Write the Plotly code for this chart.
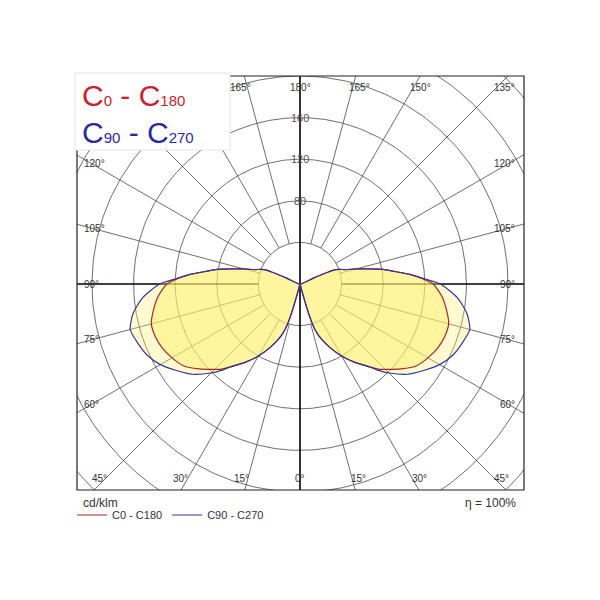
import numpy as np
import plotly.graph_objects as go

# ---------------- data (cd/klm) ----------------
gamma = [0, 10, 14, 15, 16, 17, 18, 20, 25, 30, 35, 40, 42.5, 45, 50, 55, 60, 65, 70,
         75, 80, 85, 90, 92.5, 95, 97.5, 100, 102.5, 105, 107.5, 110, 112, 113, 114,
         115, 120, 180]
c0_c180 = [0, 0, 0, 6, 25, 38, 45, 53, 67, 80, 92, 104, 111, 116, 127, 137, 142, 146, 148,
           148, 143, 137, 128, 118, 106, 92, 81, 67, 56, 46, 41, 37, 29, 14,
           0, 0, 0]
c90_c270 = [0, 0, 0, 6, 25, 38, 45, 53, 67, 80, 92, 104, 113, 121, 135, 145, 155, 162, 166,
            169, 163, 152, 135, 119, 106, 92, 81, 67, 56, 46, 41, 37, 29, 14,
            0, 0, 0]
ring_values = [40, 80, 120, 160, 200, 240, 280]
ring_labels = ["80", "120", "160"]
spoke_angles = list(range(0, 181, 15))
angle_labels = [f"{a}°" for a in spoke_angles]
series_names = ["C0 - C180", "C90 - C270"]

# ---------------- geometry helpers ----------------
OFF = 8                                 # page body margin
W, H = 600 - OFF, 600 - OFF
FL, FR, FT, FB = 77, 524, 76, 490      # frame in page pixels
CX, CY = 300, 284                       # pole in page pixels
K = 1.04                                # px per cd/klm

def px2data(xp, yp):
    return (xp - CX) / K, (CY - yp) / K

def px2paper(xp, yp):
    return (xp - FL) / (FR - FL), (FB - yp) / (FB - FT)

xr = [px2data(FL, 0)[0], px2data(FR, 0)[0]]
yr = [px2data(0, FB)[1], px2data(0, FT)[1]]

def lobe_path(g, vals):
    g = np.radians(np.array(g, float))
    v = np.array(vals, float)
    xs_r, ys_r = v * np.sin(g), -v * np.cos(g)
    xs = np.concatenate([xs_r, -xs_r[::-1]])
    ys = np.concatenate([ys_r, ys_r[::-1]])
    px, py = [], []
    for a, b in zip(xs, ys):
        if px and abs(px[-1] - a) < 1e-9 and abs(py[-1] - b) < 1e-9:
            continue
        px.append(a); py.append(b)
    return px, py

fig = go.Figure()

GRID = "#4a4a4a"
# rings
th = np.linspace(0, 2 * np.pi, 361)
for r in ring_values:
    fig.add_trace(go.Scatter(x=r * np.cos(th), y=r * np.sin(th), mode="lines",
                             line=dict(color=GRID, width=0.8), hoverinfo="skip",
                             showlegend=False))
# spokes
for a in spoke_angles:
    ar = np.radians(a)
    for s in (1, -1):
        if a in (0, 180):
            continue
        x0, y0 = s * 40 * np.sin(ar), -40 * np.cos(ar)
        x1, y1 = s * 600 * np.sin(ar), -600 * np.cos(ar)
        heavy = a == 90
        fig.add_trace(go.Scatter(x=[x0, x1], y=[y0, y1], mode="lines",
                                 line=dict(color="#000" if heavy else GRID,
                                           width=1.4 if heavy else 0.8),
                                 hoverinfo="skip", showlegend=False))
fig.add_trace(go.Scatter(x=[0, 0], y=[-600, 600], mode="lines",
                         line=dict(color="#000", width=1.6), hoverinfo="skip",
                         showlegend=False))

# fills
bx, by = lobe_path(gamma, c90_c270)
rx, ry = lobe_path(gamma, c0_c180)
fig.add_trace(go.Scatter(x=bx, y=by, mode="none", fill="toself",
                         fillcolor="rgba(255,240,110,0.32)", hoverinfo="skip",
                         showlegend=False))
fig.add_trace(go.Scatter(x=rx, y=ry, mode="none", fill="toself",
                         fillcolor="rgba(255,240,110,0.5)", hoverinfo="skip",
                         showlegend=False))
RED, BLUE = "#a3282a", "#34349c"
fig.add_trace(go.Scatter(x=rx, y=ry, mode="lines", name=series_names[0],
                         line=dict(color=RED, width=1.2, shape="spline", smoothing=0.6)))
fig.add_trace(go.Scatter(x=bx, y=by, mode="lines", name=series_names[1],
                         line=dict(color=BLUE, width=1.2, shape="spline", smoothing=0.6)))

ann = []
FONT = "Liberation Sans, Arial, sans-serif"
# radial labels
for lab in ring_labels:
    ann.append(dict(x=0, y=float(lab), xref="x", yref="y", text=lab, showarrow=False,
                    font=dict(family=FONT, size=11, color="#555"),
                    xanchor="center", yanchor="middle"))

# angle labels
box = (75, 73, 230, 150)  # legend box in page px
for a, lab in zip(spoke_angles, angle_labels):
    ar = np.radians(a)
    sides = (0,) if a in (0, 180) else (1, -1)
    for s in sides:
        if 60 <= a <= 120:
            ypx = CY - (-np.cos(ar) * 208 / np.sin(ar)) if a != 90 else CY
            if s < 0:
                xpx, xa = 82, "left"
            else:
                xpx, xa = 517, "right"
        elif a < 60:
            ypx = 478
            dx = 194 * np.tan(ar)
            xpx = CX + s * (min(dx + 7, 207) if a > 0 else 0)
            xa = "center"
        else:
            ypx = 87
            dx = 197 * np.tan(np.pi - ar)
            xpx = CX + s * (min(dx + 7, 205) if a < 180 else 0)
            xa = "center"
        if box[0] <= xpx <= box[2] and box[1] <= ypx <= box[3]:
            continue
        px_, py_ = px2paper(xpx, ypx)
        ann.append(dict(x=px_, y=py_, xref="paper", yref="paper", text=lab,
                        showarrow=False, font=dict(family=FONT, size=10, color="#333"),
                        xanchor=xa, yanchor="middle"))

# big header legend
sub = "<span style='font-size:15px'>{}</span>"
for col, (c1, c2), ypx in [("#c8242c", ("0", "180"), 95), ("#2a2aa2", ("90", "270"), 133)]:
    txt = "C" + sub.format(c1) + " - C" + sub.format(c2)
    px_, py_ = px2paper(80, ypx)
    ann.append(dict(x=px_, y=py_, xref="paper", yref="paper", text=txt, showarrow=False,
                    font=dict(family=FONT, size=30, color=col),
                    xanchor="left", yanchor="middle"))

px_, py_ = px2paper(81, 503)
ann.append(dict(x=px_, y=py_, xref="paper", yref="paper", text="cd/klm", showarrow=False,
                font=dict(family=FONT, size=12, color="#333"), xanchor="left", yanchor="middle"))
px_, py_ = px2paper(518, 503)
ann.append(dict(x=px_, y=py_, xref="paper", yref="paper", text="η = 100%", showarrow=False,
                font=dict(family=FONT, size=12, color="#333"), xanchor="right", yanchor="middle"))

bx0, by0 = px2paper(box[0], box[3])
bx1, by1 = px2paper(box[2], box[1])
shapes = [
    dict(type="rect", xref="paper", yref="paper", x0=0, y0=0, x1=1, y1=1,
         line=dict(color="#222", width=1.2), layer="above"),
    dict(type="rect", xref="paper", yref="paper", x0=bx0, y0=by0, x1=bx1, y1=by1,
         fillcolor="white", line=dict(color="#e4e4e4", width=1), layer="above"),
]

lx, ly = px2paper(72, 515)
fig.update_layout(
    width=W, height=H,
    margin=dict(l=FL - OFF, r=600 - FR, t=FT - OFF, b=600 - FB),
    paper_bgcolor="white", plot_bgcolor="white",
    xaxis=dict(range=xr, visible=False, showgrid=False, zeroline=False),
    yaxis=dict(range=yr, visible=False, showgrid=False, zeroline=False),
    annotations=ann, shapes=shapes,
    legend=dict(orientation="h", x=lx, y=ly, xanchor="left", yanchor="middle",
                font=dict(family=FONT, size=11, color="#333"),
                bgcolor="rgba(0,0,0,0)", itemwidth=30, tracegroupgap=0),
    showlegend=True,
)
fig.write_html("out.html")
